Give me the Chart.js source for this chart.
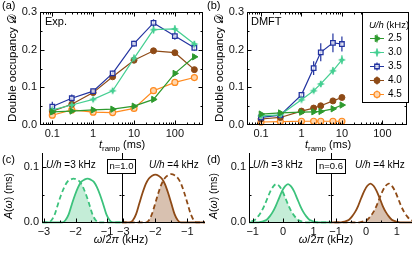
<!DOCTYPE html>
<html>
<head>
<meta charset="utf-8">
<script src="https://cdn.jsdelivr.net/npm/chart.js@4.4.1/dist/chart.umd.min.js"></script>
<style>
html, body { margin: 0; padding: 0; background: #fff; }
body { width: 416px; height: 254px; position: relative; overflow: hidden; }
canvas { position: absolute; }
</style>
</head>
<body>
<canvas id="pa" width="208" height="152" style="left:0;top:0"></canvas>
<canvas id="pb" width="205" height="152" style="left:207px;top:0"></canvas>
<canvas id="pcl" width="123" height="114" style="left:0;top:140px"></canvas>
<canvas id="pcr" width="150" height="114" style="left:60px;top:140px"></canvas>
<canvas id="pdl" width="125" height="114" style="left:207px;top:140px"></canvas>
<canvas id="pdr" width="146" height="114" style="left:270px;top:140px"></canvas>
<script>
// ---------- data ----------
const uLabels = ['2.5', '3.0', '3.5', '4.0', '4.5'];

// (a) experiment, ramp times (ms)
const rampExp = [0.1, 0.3, 1, 3, 10, 30, 100, 300];
const expD25 = [0.035, 0.037, 0.040, 0.042, 0.050, 0.068, 0.137, 0.181];
const expD30 = [0.040, 0.053, 0.068, 0.091, 0.177, 0.253, 0.255, 0.215];
const expD35 = [0.049, 0.071, 0.090, 0.137, 0.216, 0.271, 0.236, 0.205];
const expD40 = [0.037, 0.055, 0.086, 0.128, 0.172, 0.197, 0.192, 0.147];
const expD45 = [0.026, 0.040, 0.034, 0.033, 0.044, 0.091, 0.113, 0.126];
const expE25 = [0.004, 0.004, 0.004, 0.004, 0.005, 0.005, 0.006, 0.006];
const expE30 = [0.005, 0.006, 0.006, 0.007, 0.010, 0.010, 0.010, 0.008];
const expE35 = [0.013, 0.010, 0.006, 0.007, 0.008, 0.010, 0.010, 0.008];
const expE40 = [0.004, 0.005, 0.005, 0.005, 0.006, 0.006, 0.006, 0.005];
const expE45 = [0.004, 0.005, 0.005, 0.005, 0.005, 0.006, 0.008, 0.005];

// (b) DMFT
const rampTh = [0.1, 0.3, 1, 2, 3, 6, 10];
const thD25 = [0.029, 0.032, 0.034, 0.035, 0.036, 0.043, 0.053];
const thD30 = [0.024, 0.027, 0.067, 0.091, 0.109, 0.144, 0.173];
const thD35 = [0.020, 0.026, 0.080, 0.151, 0.193, 0.218, 0.215];
const thD40 = [0.016, 0.020, 0.037, 0.045, 0.051, 0.064, 0.073];
const thD45 = [0.008, 0.009, 0.010, 0.010, 0.010, 0.010, 0.010];
const thE25 = [0.003, 0.003, 0.003, 0.003, 0.003, 0.003, 0.003];
const thE30 = [0.002, 0.002, 0.004, 0.006, 0.008, 0.010, 0.012];
const thE35 = [0.002, 0.003, 0.006, 0.018, 0.024, 0.025, 0.020];
const thE40 = [0.002, 0.002, 0.002, 0.003, 0.003, 0.003, 0.003];
const thE45 = [0.002, 0.002, 0.002, 0.002, 0.002, 0.002, 0.002];

// tick labels
const rampTickVals = [0.1, 1, 10, 100];
const rampTickLabels = ['0.1', '1', '10', '100'];
const dTickVals = [0, 0.1, 0.2, 0.3];
const dTickLabels = ['0.0', '0.1', '0.2', '0.3'];
const aTickVals = [0, 0.1];
const aTickLabels = ['0.0', '0.1'];
const cTickVals = [-3, -2, -1];
const cTickLabels = ['\u22123', '\u22122', '\u22121'];
const dwTickVals = [-1, 0, 1];
const dwTickLabels = ['\u22121', '0', '1'];

// (c) n=1.0, spectral functions, omega/2pi (kHz) vs A (ms)
const cL_solidX = [-3.3, -2.42, -2.32, -2.22, -2.12, -2.02, -1.92, -1.82, -1.72, -1.62, -1.52, -1.42, -1.32, -1.22, -1.12, -1.02, -0.92, -0.82, -0.3];
const cL_solidY = [0, 0, 0.004, 0.014, 0.032, 0.049, 0.063, 0.073, 0.077, 0.079, 0.077, 0.073, 0.063, 0.049, 0.032, 0.014, 0.004, 0, 0];
const cL_dashX = [-3.3, -2.86, -2.76, -2.66, -2.56, -2.46, -2.36, -2.26, -2.16, -2.06, -1.96, -1.86, -1.76, -1.66, -1.56, -1.46, -1.36, -1.26, -0.3];
const cL_dashY = [0, 0, 0.004, 0.014, 0.032, 0.049, 0.063, 0.073, 0.077, 0.079, 0.077, 0.073, 0.063, 0.049, 0.032, 0.014, 0.004, 0, 0];
const cL_fillX = [-2.42, -2.32, -2.22, -2.12, -2.02, -1.92, -1.84, -1.76, -1.66, -1.56, -1.46, -1.36, -1.26];
const cL_fillY = [0, 0.004, 0.014, 0.032, 0.049, 0.063, 0.071, 0.063, 0.049, 0.032, 0.014, 0.004, 0];

const cR_solidX = [-3.3, -2.8, -2.7, -2.6, -2.5, -2.4, -2.3, -2.2, -2.1, -2.0, -1.9, -1.8, -1.7, -1.6, -1.5, -1.4, -1.3, -1.2, -0.3];
const cR_solidY = [0, 0, 0.004, 0.015, 0.034, 0.053, 0.069, 0.079, 0.084, 0.086, 0.084, 0.079, 0.069, 0.053, 0.034, 0.015, 0.004, 0, 0];
const cR_dashX = [-3.3, -2.3, -2.2, -2.1, -2.0, -1.9, -1.8, -1.7, -1.6, -1.5, -1.4, -1.3, -1.2, -1.1, -1.0, -0.9, -0.8, -0.7, -0.3];
const cR_dashY = [0, 0, 0.004, 0.016, 0.035, 0.054, 0.070, 0.080, 0.085, 0.087, 0.085, 0.080, 0.070, 0.054, 0.035, 0.016, 0.004, 0, 0];
const cR_fillX = [-2.3, -2.2, -2.1, -2.0, -1.9, -1.8, -1.75, -1.7, -1.6, -1.5, -1.4, -1.3, -1.2];
const cR_fillY = [0, 0.004, 0.016, 0.035, 0.054, 0.070, 0.074, 0.069, 0.053, 0.034, 0.015, 0.004, 0];

// (d) n=0.6
const dL_solidX = [-1.3, -0.84, -0.74, -0.64, -0.54, -0.44, -0.34, -0.24, -0.14, -0.04, 0.06, 0.16, 0.26, 0.36, 0.46, 0.56, 0.66, 0.76, 0.86, 0.96, 1.06, 1.16, 1.7];
const dL_solidY = [0, 0, 0.001, 0.0025, 0.005, 0.011, 0.019, 0.030, 0.043, 0.056, 0.065, 0.069, 0.065, 0.056, 0.043, 0.030, 0.019, 0.011, 0.005, 0.0025, 0.001, 0, 0];
const dL_dashX = [-1.3, -1.02, -0.92, -0.82, -0.72, -0.62, -0.52, -0.42, -0.32, -0.22, -0.12, -0.02, 0.08, 0.18, 0.28, 0.38, 0.48, 0.58, 0.68, 0.78, 1.7];
const dL_dashY = [0.0005, 0.0025, 0.005, 0.011, 0.019, 0.030, 0.043, 0.056, 0.065, 0.069, 0.065, 0.056, 0.043, 0.030, 0.019, 0.011, 0.005, 0.0025, 0.001, 0, 0];
const dL_fillX = [-1.3, -0.84, -0.74, -0.64, -0.54, -0.44, -0.34, -0.24, -0.14, -0.03, 0.08, 0.18, 0.28, 0.38, 0.48, 0.58, 0.68, 0.78];
const dL_fillY = [0, 0, 0.001, 0.0025, 0.005, 0.011, 0.019, 0.030, 0.043, 0.057, 0.043, 0.030, 0.019, 0.011, 0.005, 0.0025, 0.001, 0];

const dR_solidX = [-1.3, -0.86, -0.76, -0.66, -0.56, -0.46, -0.36, -0.26, -0.16, -0.06, 0.04, 0.14, 0.24, 0.34, 0.44, 0.54, 0.64, 0.74, 0.84, 0.94, 1.04, 1.14, 1.7];
const dR_solidY = [0, 0, 0.001, 0.0025, 0.005, 0.011, 0.019, 0.030, 0.044, 0.057, 0.066, 0.070, 0.066, 0.057, 0.044, 0.030, 0.019, 0.011, 0.005, 0.0025, 0.001, 0, 0];
const dR_dashX = [-1.3, -0.26, -0.16, -0.06, 0.04, 0.14, 0.24, 0.34, 0.44, 0.54, 0.64, 0.74, 0.84, 0.94, 1.04, 1.14, 1.24, 1.34, 1.44, 1.54];
const dR_dashY = [0, 0, 0.001, 0.0025, 0.005, 0.011, 0.019, 0.030, 0.044, 0.057, 0.066, 0.070, 0.066, 0.057, 0.044, 0.030, 0.019, 0.011, 0.005, 0.003];
const dR_fillX = [-0.26, -0.16, -0.06, 0.04, 0.14, 0.24, 0.34, 0.44, 0.54, 0.64, 0.74, 0.84, 0.94, 1.04, 1.14];
const dR_fillY = [0, 0.001, 0.0025, 0.005, 0.011, 0.019, 0.030, 0.044, 0.030, 0.019, 0.011, 0.005, 0.0025, 0.001, 0];

// ---------- styling ----------
const FONT = '"Liberation Sans", Arial, "DejaVu Sans", sans-serif';
Chart.defaults.font.family = FONT;
Chart.defaults.font.size = 11;
Chart.defaults.color = '#111';

const uColors = ['#2e9a2e', '#45cf92', '#2233a0', '#8e4a16', '#ff8a1e'];
const GREEN = '#3cc27c', GREEN_FILL = 'rgba(60,194,124,0.3)';
const BROWN = '#8e4a16', BROWN_FILL = 'rgba(142,74,22,0.34)';

function starImg(color, r) {
  const c = document.createElement('canvas');
  c.width = c.height = 2 * r + 2;
  const g = c.getContext('2d');
  g.translate(r + 1, r + 1);
  g.fillStyle = color;
  g.beginPath();
  for (let i = 0; i < 8; i++) {
    const a = i * Math.PI / 4 - Math.PI / 2, rr = i % 2 ? r * 0.42 : r;
    g.lineTo(rr * Math.cos(a), rr * Math.sin(a));
  }
  g.closePath();
  g.fill();
  return c;
}

const markers = [
  {pointStyle: 'triangle', rotation: 90, radius: 3.6, bg: uColors[0], bw: 1},
  {pointStyle: starImg(uColors[1], 4), rotation: 0, radius: 4, bg: uColors[1], bw: 1},
  {pointStyle: 'rect', rotation: 0, radius: 3.2, bg: 'rgba(255,255,255,0.75)', bw: 1.3},
  {pointStyle: 'circle', rotation: 0, radius: 3, bg: uColors[3], bw: 1},
  {pointStyle: 'circle', rotation: 0, radius: 3, bg: '#ffd6ad', bw: 1.2}
];

function xy(xs, ys) { return xs.map((x, i) => ({x, y: ys[i]})); }

function rampSets(xs, ys, es) {
  return ys.map((vals, i) => ({
    label: uLabels[i],
    data: xy(xs, vals),
    errs: es[i],
    borderColor: uColors[i],
    borderWidth: 1.2,
    pointStyle: markers[i].pointStyle,
    pointRotation: markers[i].rotation,
    pointRadius: markers[i].radius,
    pointBackgroundColor: markers[i].bg,
    pointBorderColor: uColors[i],
    pointBorderWidth: markers[i].bw,
    clip: false
  }));
}

function rich(ctx, x, y, parts, size, align, rot) {
  ctx.save();
  ctx.translate(x, y);
  if (rot) ctx.rotate(rot);
  const fonts = parts.map(p => (p[1] === 'i' ? 'italic ' : '') + (p[1] === 'sub' ? size * 0.72 : size) + 'px ' + FONT);
  let w = 0;
  const ws = parts.map((p, i) => { ctx.font = fonts[i]; const m = ctx.measureText(p[0]).width; w += m; return m; });
  let cx = align === 'center' ? -w / 2 : align === 'right' ? -w : 0;
  ctx.textBaseline = 'middle';
  ctx.textAlign = 'left';
  ctx.fillStyle = '#000';
  parts.forEach((p, i) => {
    ctx.font = fonts[i];
    ctx.fillText(p[0], cx, p[1] === 'sub' ? size * 0.32 : 0);
    cx += ws[i];
  });
  ctx.restore();
}

function frame(sides, tickSides) {
  return {
    id: 'frame',
    afterDatasetsDraw(chart) {
      const {ctx, chartArea: a, scales: {x, y}} = chart;
      const L = Math.round(a.left) + 0.5, R = Math.round(a.right) - 0.5;
      const T = Math.round(a.top) + 0.5, B = Math.round(a.bottom) - 0.5;
      ctx.save();
      ctx.strokeStyle = '#000';
      ctx.lineWidth = 1;
      ctx.beginPath();
      if (sides.includes('left')) { ctx.moveTo(L, T - 0.5); ctx.lineTo(L, B + 0.5); }
      if (sides.includes('right')) { ctx.moveTo(R, T - 0.5); ctx.lineTo(R, B + 0.5); }
      if (sides.includes('top')) { ctx.moveTo(L - 0.5, T); ctx.lineTo(R + 0.5, T); }
      if (sides.includes('bottom')) { ctx.moveTo(L - 0.5, B); ctx.lineTo(R + 0.5, B); }
      for (const t of x.ticks) {
        const p = Math.round(x.getPixelForValue(t.value)) + 0.5;
        if (p < a.left || p > a.right) continue;
        const len = t.major ? 4 : 2;
        if (tickSides.includes('bottom')) { ctx.moveTo(p, B); ctx.lineTo(p, B - len); }
        if (tickSides.includes('top')) { ctx.moveTo(p, T); ctx.lineTo(p, T + len); }
      }
      for (const t of y.ticks) {
        const p = Math.round(y.getPixelForValue(t.value)) + 0.5;
        if (p < a.top || p > a.bottom) continue;
        const len = t.major ? 4 : 2;
        if (tickSides.includes('left')) { ctx.moveTo(L, p); ctx.lineTo(L + len, p); }
        if (tickSides.includes('right')) { ctx.moveTo(R, p); ctx.lineTo(R - len, p); }
      }
      ctx.stroke();
      ctx.restore();
    }
  };
}

const errorBars = {
  id: 'errorBars',
  beforeDatasetsDraw(chart) {
    const {ctx, scales: {y}} = chart;
    ctx.save();
    ctx.lineWidth = 1.2;
    chart.data.datasets.forEach((ds, i) => {
      if (!ds.errs) return;
      const pts = chart.getDatasetMeta(i).data;
      ctx.strokeStyle = ds.borderColor;
      ctx.beginPath();
      pts.forEach((p, j) => {
        const v = ds.data[j].y, e = ds.errs[j];
        ctx.moveTo(p.x, y.getPixelForValue(v - e));
        ctx.lineTo(p.x, y.getPixelForValue(v + e));
      });
      ctx.stroke();
    });
    ctx.restore();
  }
};

function textLayer(ox, oy, draw) {
  return { id: 'text', afterDraw(chart) { const ctx = chart.ctx; ctx.save(); ctx.translate(-ox, -oy); draw(ctx, chart); ctx.restore(); } };
}

function logTicks(min, max) {
  const out = [];
  for (let e = -2; e <= 3; e++) for (let m = 1; m <= 9; m++) {
    const v = parseFloat((m * Math.pow(10, e)).toPrecision(3));
    if (v >= min && v <= max) out.push(v);
  }
  return out;
}

function rampAxis(min, max) {
  return {
    type: 'logarithmic', min, max,
    grid: {display: false, drawTicks: false}, border: {display: false},
    afterBuildTicks: s => { s.ticks = logTicks(min, max).map(v => ({value: v, major: rampTickVals.includes(v)})); },
    ticks: {autoSkip: false, maxRotation: 0, minRotation: 0, padding: 2,
      callback: v => { const k = rampTickVals.indexOf(v); return k < 0 ? '' : rampTickLabels[k]; }},
    afterFit: s => { s.height = 27; }
  };
}

function dAxis() {
  return {
    min: 0, max: 0.3,
    grid: {display: false, drawTicks: false}, border: {display: false},
    afterBuildTicks: s => { s.ticks = [0, 0.05, 0.1, 0.15, 0.2, 0.25, 0.3].map(v => ({value: v, major: dTickVals.includes(v)})); },
    ticks: {padding: 3, callback: v => { const k = dTickVals.indexOf(v); return k < 0 ? '' : dTickLabels[k]; }},
    afterFit: s => { s.width = 40; }
  };
}

function wAxis(min, max, vals, labels, minors) {
  return {
    type: 'linear', min, max,
    grid: {display: false, drawTicks: false}, border: {display: false},
    afterBuildTicks: s => { s.ticks = vals.concat(minors).sort((p, q) => p - q).map(v => ({value: v, major: vals.includes(v)})); },
    ticks: {autoSkip: false, maxRotation: 0, padding: 2,
      callback: v => { const k = vals.indexOf(v); return k < 0 ? '' : labels[k]; }},
    afterFit: s => { s.height = 31; }
  };
}

function aAxis(showLabels) {
  return {
    min: -0.001, max: 0.125,
    grid: {display: false, drawTicks: false}, border: {display: false},
    afterBuildTicks: s => { s.ticks = [0, 0.05, 0.1].map(v => ({value: v, major: aTickVals.includes(v)})); },
    ticks: {display: showLabels, padding: 3, callback: v => { const k = aTickVals.indexOf(v); return k < 0 ? '' : aTickLabels[k]; }},
    afterFit: s => { s.width = showLabels ? 42 : 0; }
  };
}

function specSets(color, fillColor, sx, sy, dx, dy, fx, fy) {
  const base = {pointRadius: 0, cubicInterpolationMode: 'monotone', clip: {left: 0, right: 0, top: 5, bottom: 2}};
  return [
    Object.assign({data: xy(sx, sy), borderColor: color, borderWidth: 1.8, fill: false}, base),
    Object.assign({data: xy(dx, dy), borderColor: color, borderWidth: 1.8, borderDash: [5, 3], fill: false}, base),
    Object.assign({data: xy(fx, fy), borderWidth: 0, borderColor: 'rgba(0,0,0,0)', backgroundColor: fillColor, fill: 'origin'}, base)
  ];
}

const common = {
  responsive: false, animation: false, devicePixelRatio: 1,
  plugins: {legend: {display: false}, tooltip: {enabled: false}}
};

const tramp = [['t', 'i'], ['ramp', 'sub'], [' (ms)', '']];
const wTitle = [['\u03c9', 'i'], ['/2', ''], ['\u03c0', 'i'], [' (kHz)', '']];
const aTitle = [['A', 'i'], ['(', ''], ['\u03c9', 'i'], [') (ms)', '']];
const dTitle = [['Double occupancy ', ''], ['\ud835\udc9f', '']];

// ---------- (a) ----------
new Chart(document.getElementById('pa'), {
  type: 'line',
  data: {datasets: rampSets(rampExp, [expD25, expD30, expD35, expD40, expD45], [expE25, expE30, expE35, expE40, expE45])},
  options: Object.assign({}, common, {
    layout: {padding: {top: 12, right: 4, left: 0, bottom: 0}},
    scales: {x: rampAxis(0.05, 480), y: dAxis()}
  }),
  plugins: [errorBars, frame(['left', 'right', 'top', 'bottom'], ['left', 'right', 'top', 'bottom']),
    textLayer(0, 0, ctx => {
      rich(ctx, 2, 6, [['(a)', '']], 11, 'left');
      rich(ctx, 13, 68, dTitle, 11.5, 'center', -Math.PI / 2);
      rich(ctx, 122, 145, tramp, 11, 'center');
      rich(ctx, 45, 22, [['Exp.', '']], 11, 'left');
    })]
});

// ---------- (b) ----------
new Chart(document.getElementById('pb'), {
  type: 'line',
  data: {datasets: rampSets(rampTh, [thD25, thD30, thD35, thD40, thD45], [thE25, thE30, thE35, thE40, thE45])},
  options: Object.assign({}, common, {
    layout: {padding: {top: 12, right: 3, left: 0, bottom: 0}},
    scales: {x: rampAxis(0.045, 400), y: dAxis()}
  }),
  plugins: [errorBars, frame(['left', 'right', 'top', 'bottom'], ['left', 'right', 'top', 'bottom']),
    textLayer(207, 0, (ctx, chart) => {
      rich(ctx, 207, 6, [['(b)', '']], 11, 'left');
      rich(ctx, 220, 68, dTitle, 11.5, 'center', -Math.PI / 2);
      rich(ctx, 328, 145, tramp, 11, 'center');
      rich(ctx, 251, 22, [['DMFT', '']], 11, 'left');
      // legend box
      ctx.fillStyle = '#fff';
      ctx.fillRect(362.5, 12.5, 46, 90);
      ctx.strokeStyle = '#000';
      ctx.lineWidth = 1;
      ctx.strokeRect(362.5, 12.5, 46, 90);
      rich(ctx, 389, 25, [['U/h', 'i'], [' (kHz)', '']], 9.5, 'center');
      uLabels.forEach((lab, i) => {
        const yy = 38.5 + i * 14;
        ctx.strokeStyle = uColors[i];
        ctx.lineWidth = 1.2;
        ctx.beginPath();
        ctx.moveTo(370, yy); ctx.lineTo(384, yy);
        ctx.moveTo(377, yy - 4); ctx.lineTo(377, yy + 4);
        ctx.stroke();
        ctx.fillStyle = markers[i].bg;
        ctx.lineWidth = markers[i].bw;
        Chart.helpers.drawPoint(ctx, {pointStyle: markers[i].pointStyle, rotation: markers[i].rotation, radius: markers[i].radius, borderWidth: markers[i].bw}, 377, yy);
        rich(ctx, 388, yy, [[lab, '']], 10, 'left');
      });
    })]
});

// ---------- (c) ----------
new Chart(document.getElementById('pcl'), {
  type: 'line',
  data: {datasets: specSets(GREEN, GREEN_FILL, cL_solidX, cL_solidY, cL_dashX, cL_dashY, cL_fillX, cL_fillY)},
  options: Object.assign({}, common, {
    layout: {padding: {top: 13, right: 1, left: 0, bottom: 0}},
    scales: {x: wAxis(-3.06, -0.53, cTickVals, cTickLabels, [-2.5, -1.5]), y: aAxis(true)}
  }),
  plugins: [frame(['left', 'bottom'], ['left', 'right', 'bottom']),
    textLayer(0, 140, ctx => {
      rich(ctx, 2, 160, [['(c)', '']], 11, 'left');
      rich(ctx, 9, 196, aTitle, 10.5, 'center', -Math.PI / 2);
      rich(ctx, 46, 165, [['U/h', 'i'], [' =3 kHz', '']], 10, 'left');
    })]
});

new Chart(document.getElementById('pcr'), {
  type: 'line',
  data: {datasets: specSets(BROWN, BROWN_FILL, cR_solidX, cR_solidY, cR_dashX, cR_dashY, cR_fillX, cR_fillY)},
  options: Object.assign({}, common, {
    layout: {padding: {top: 13, right: 5, left: 62, bottom: 0}},
    scales: {x: wAxis(-3.04, -0.45, cTickVals, cTickLabels, [-2.5, -1.5, -0.5]), y: aAxis(false)}
  }),
  plugins: [frame(['left', 'bottom'], ['left', 'bottom']),
    textLayer(60, 140, ctx => {
      rich(ctx, 149, 165, [['U/h', 'i'], [' =4 kHz', '']], 10, 'left');
      ctx.fillStyle = '#fff';
      ctx.fillRect(107.5, 159.5, 28, 14);
      ctx.strokeStyle = '#000';
      ctx.lineWidth = 1;
      ctx.strokeRect(107.5, 159.5, 28, 14);
      rich(ctx, 121.5, 166.5, [['n=1.0', '']], 9.5, 'center');
      rich(ctx, 121, 240, wTitle, 11, 'center');
    })]
});

// ---------- (d) ----------
new Chart(document.getElementById('pdl'), {
  type: 'line',
  data: {datasets: specSets(GREEN, GREEN_FILL, dL_solidX, dL_solidY, dL_dashX, dL_dashY, dL_fillX, dL_fillY)},
  options: Object.assign({}, common, {
    layout: {padding: {top: 13, right: 1, left: 0, bottom: 0}},
    scales: {x: wAxis(-1.12, 1.57, dwTickVals, dwTickLabels, [-0.5, 0.5, 1.5]), y: aAxis(true)}
  }),
  plugins: [frame(['left', 'bottom'], ['left', 'right', 'bottom']),
    textLayer(207, 140, ctx => {
      rich(ctx, 207, 160, [['(d)', '']], 11, 'left');
      rich(ctx, 214, 196, aTitle, 10.5, 'center', -Math.PI / 2);
      rich(ctx, 253, 165, [['U/h', 'i'], [' =3 kHz', '']], 10, 'left');
    })]
});

new Chart(document.getElementById('pdr'), {
  type: 'line',
  data: {datasets: specSets(BROWN, BROWN_FILL, dR_solidX, dR_solidY, dR_dashX, dR_dashY, dR_fillX, dR_fillY)},
  options: Object.assign({}, common, {
    layout: {padding: {top: 13, right: 4, left: 61, bottom: 0}},
    scales: {x: wAxis(-1.15, 1.5, dwTickVals, dwTickLabels, [-0.5, 0.5]), y: aAxis(false)}
  }),
  plugins: [frame(['left', 'bottom'], ['left', 'bottom']),
    textLayer(270, 140, ctx => {
      rich(ctx, 355, 165, [['U/h', 'i'], [' =4 kHz', '']], 10, 'left');
      ctx.fillStyle = '#fff';
      ctx.fillRect(316.5, 159.5, 29, 14);
      ctx.strokeStyle = '#000';
      ctx.lineWidth = 1;
      ctx.strokeRect(316.5, 159.5, 29, 14);
      rich(ctx, 331, 166.5, [['n=0.6', '']], 9.5, 'center');
      rich(ctx, 326, 240, wTitle, 11, 'center');
    })]
});
</script>
</body>
</html>
